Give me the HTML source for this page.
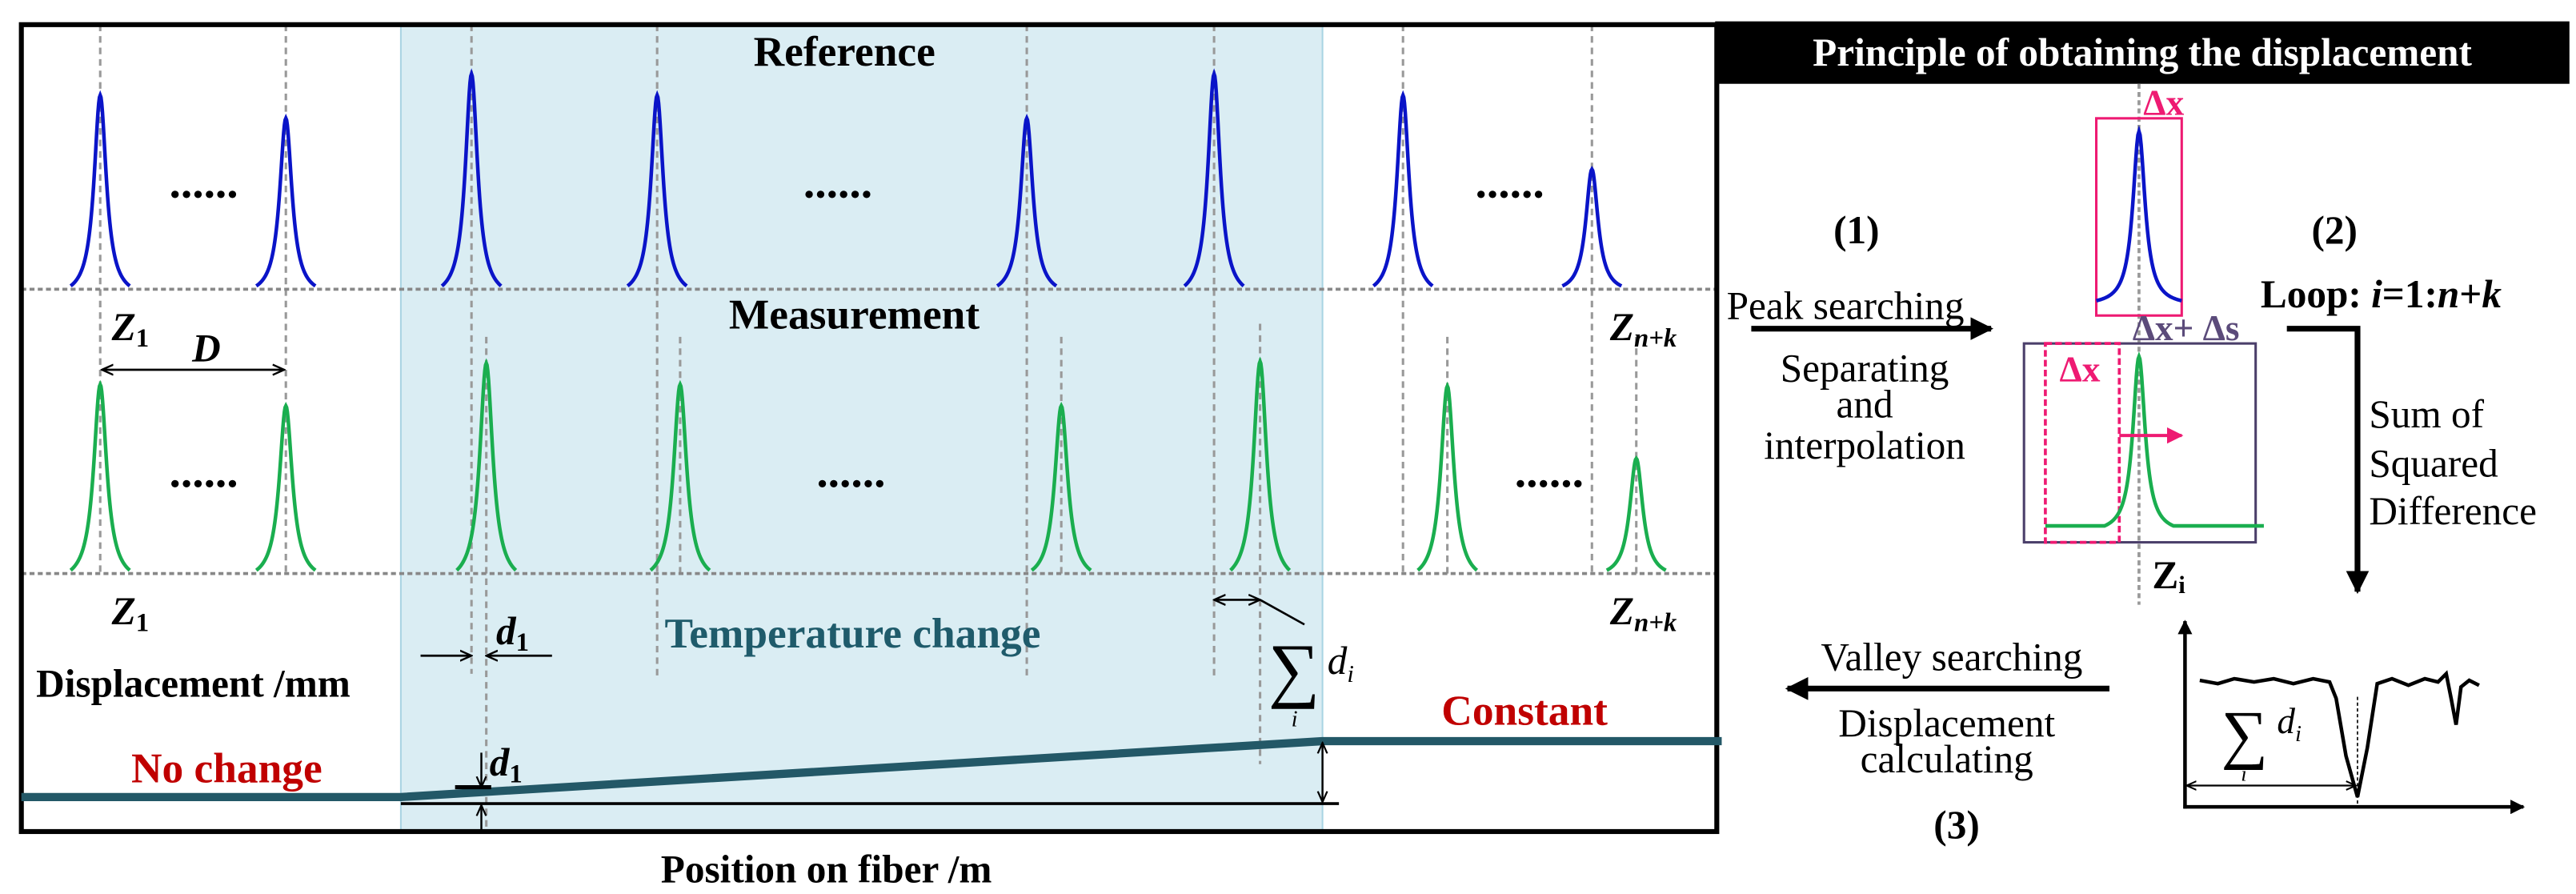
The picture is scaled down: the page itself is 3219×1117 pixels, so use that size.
<!DOCTYPE html>
<html><head><meta charset="utf-8"><style>
html,body{margin:0;padding:0;background:#fff;}
svg{display:block;}
svg text{font-family:"Liberation Serif","Times New Roman","Tinos","DejaVu Serif",serif;}
</style></head><body>
<svg id="fig" width="3219" height="1117" viewBox="0 0 1568 544" preserveAspectRatio="none" xmlns="http://www.w3.org/2000/svg">
<defs>
<marker id="ah" viewBox="0 0 10 10" refX="9" refY="5" markerWidth="6" markerHeight="6" orient="auto-start-reverse"><path d="M0,1 L9,5 L0,9" fill="none" stroke="#000" stroke-width="1.5"/></marker>
<marker id="ahf" viewBox="0 0 10 10" refX="9" refY="5" markerWidth="4" markerHeight="4" orient="auto"><path d="M0,0 L10,5 L0,10 z" fill="#000"/></marker>
<marker id="ahp" viewBox="0 0 10 10" refX="9" refY="5" markerWidth="5" markerHeight="5" orient="auto"><path d="M0,0 L10,5 L0,10 z" fill="#ee1a72"/></marker>
</defs>
<rect x="244" y="15" width="561" height="491" fill="#daedf3" stroke="#a9d4e3" stroke-width="1"/>
<g id="grid"></g>
<line x1="13" y1="176" x2="1045" y2="176" stroke="#888" stroke-width="1.8" stroke-dasharray="3,2"/>
<line x1="13" y1="349" x2="1045" y2="349" stroke="#888" stroke-width="1.8" stroke-dasharray="3,2"/>
<g id="peaks"></g>
<rect x="13" y="15" width="1032" height="491" fill="none" stroke="#000" stroke-width="3"/>
<text x="514" y="40" font-size="26" font-weight="bold" text-anchor="middle">Reference</text>
<text x="520" y="200" font-size="26" font-weight="bold" text-anchor="middle">Measurement</text>
<g font-size="24" font-weight="bold" font-style="italic">
<text x="68" y="207">Z<tspan font-size="16" font-style="normal" dy="4">1</tspan></text>
<text x="68" y="380">Z<tspan font-size="16" font-style="normal" dy="4">1</tspan></text>
<text x="980" y="207">Z<tspan font-size="16" dy="4">n+k</tspan></text>
<text x="980" y="380">Z<tspan font-size="16" dy="4">n+k</tspan></text>
<text x="117" y="220">D</text>
</g>
<line x1="62" y1="225" x2="173" y2="225" stroke="#000" stroke-width="1.3" marker-start="url(#ah)" marker-end="url(#ah)"/>
<g id="dots" font-size="28" font-weight="bold"></g>
<text x="519" y="394" font-size="26" font-weight="bold" fill="#1f5b6b" text-anchor="middle">Temperature change</text>
<text x="22" y="424" font-size="24" font-weight="bold">Displacement /mm</text>
<text x="302" y="392" font-size="24" font-style="italic" font-weight="bold">d<tspan font-size="16" font-style="normal" dy="4">1</tspan></text>
<line x1="256" y1="399" x2="287" y2="399" stroke="#000" stroke-width="1.3" marker-end="url(#ah)"/>
<line x1="336" y1="399" x2="296" y2="399" stroke="#000" stroke-width="1.3" marker-end="url(#ah)"/>
<line x1="739" y1="365" x2="767" y2="365" stroke="#000" stroke-width="1.3" marker-start="url(#ah)" marker-end="url(#ah)"/>
<line x1="767" y1="365" x2="794" y2="380" stroke="#000" stroke-width="1.3"/>
<g><text x="772" y="422" font-size="44">∑</text><text x="808" y="410" font-size="24" font-style="italic">d<tspan font-size="15" dy="5">i</tspan></text><text x="786" y="442" font-size="14" font-style="italic">i</text></g>
<text x="928" y="441" font-size="26" font-weight="bold" fill="#c00000" text-anchor="middle">Constant</text>
<text x="138" y="476" font-size="26" font-weight="bold" fill="#c00000" text-anchor="middle">No change</text>
<polyline points="13,485 244,485 805,451 1048,451" fill="none" stroke="#235867" stroke-width="5"/>
<line x1="244" y1="489" x2="815" y2="489" stroke="#000" stroke-width="1.8"/>
<line x1="805" y1="452" x2="805" y2="488" stroke="#000" stroke-width="1.2" marker-start="url(#ah)" marker-end="url(#ah)"/>
<line x1="293" y1="458" x2="293" y2="479" stroke="#000" stroke-width="1.2" marker-end="url(#ah)"/>
<line x1="293" y1="505" x2="293" y2="490" stroke="#000" stroke-width="1.2" marker-end="url(#ah)"/>
<line x1="277" y1="479" x2="299" y2="479" stroke="#000" stroke-width="2.5"/>
<text x="298" y="472" font-size="24" font-style="italic" font-weight="bold">d<tspan font-size="16" font-style="normal" dy="4">1</tspan></text>
<text x="503" y="537" font-size="24" font-weight="bold" text-anchor="middle">Position on fiber /m</text>

<rect x="1044" y="13" width="520" height="38" fill="#000"/>
<text x="1304" y="40" font-size="24" font-weight="bold" fill="#fff" text-anchor="middle">Principle of obtaining the displacement</text>
<text x="1130" y="148" font-size="24" font-weight="bold" text-anchor="middle">(1)</text>
<text x="1051" y="194" font-size="24">Peak searching</text>
<line x1="1066" y1="200" x2="1212" y2="200" stroke="#000" stroke-width="3.5" marker-end="url(#ahf)"/>
<g font-size="24" text-anchor="middle"><text x="1135" y="232">Separating</text><text x="1135" y="254">and</text><text x="1135" y="279">interpolation</text></g>
<line x1="1302" y1="51" x2="1302" y2="368" stroke="#999" stroke-width="1.8" stroke-dasharray="3,2"/>
<rect x="1276" y="72" width="52" height="120" fill="none" stroke="#ee1a72" stroke-width="1.5"/>
<text x="1317" y="70" font-size="22" font-weight="bold" fill="#ee1a72" text-anchor="middle">Δx</text>
<path id="rpeak" fill="none" stroke="#0a14c8" stroke-width="2.2"/>
<text x="1298" y="207" font-size="22" font-weight="bold" fill="#5b4b7a">Δx+ Δs</text>
<rect x="1232" y="209" width="141" height="121" fill="none" stroke="#4b3f6a" stroke-width="1.5"/>
<rect x="1245" y="209" width="45" height="121" fill="none" stroke="#ee1a72" stroke-width="1.8" stroke-dasharray="4,2"/>
<text x="1266" y="232" font-size="22" font-weight="bold" fill="#ee1a72" text-anchor="middle">Δx</text>
<path id="mpeak" fill="none" stroke="#1aae4f" stroke-width="2.2"/>
<line x1="1290" y1="265" x2="1328" y2="265" stroke="#ee1a72" stroke-width="2" marker-end="url(#ahp)"/>
<text x="1310" y="358" font-size="24" font-weight="bold">Z<tspan font-size="15" dy="3">i</tspan></text>
<text x="1421" y="148" font-size="24" font-weight="bold" text-anchor="middle">(2)</text>
<text x="1376" y="187" font-size="24" font-weight="bold">Loop: <tspan font-style="italic">i</tspan>=1:<tspan font-style="italic">n</tspan>+<tspan font-style="italic">k</tspan></text>
<polyline points="1392,200 1435,200 1435,360" fill="none" stroke="#000" stroke-width="3.5" marker-end="url(#ahf)"/>
<g font-size="24"><text x="1442" y="260">Sum of</text><text x="1442" y="290">Squared</text><text x="1442" y="319">Difference</text></g>
<line x1="1330" y1="492" x2="1330" y2="378" stroke="#000" stroke-width="2.2" marker-end="url(#ahf)"/>
<line x1="1329" y1="491" x2="1536" y2="491" stroke="#000" stroke-width="2.2" marker-end="url(#ahf)"/>
<path id="ssd" fill="none" stroke="#000" stroke-width="2.2"/>
<line x1="1435" y1="424" x2="1435" y2="490" stroke="#000" stroke-width="0.8" stroke-dasharray="2,1.5"/>
<line x1="1331" y1="478" x2="1434" y2="478" stroke="#000" stroke-width="1.1" marker-start="url(#ah)" marker-end="url(#ah)"/>
<g><text x="1352" y="460" font-size="40">∑</text><text x="1386" y="446" font-size="22" font-style="italic">d<tspan font-size="14" dy="5">i</tspan></text><text x="1364" y="475" font-size="13" font-style="italic">i</text></g>
<text x="1188" y="408" font-size="24" text-anchor="middle">Valley searching</text>
<line x1="1284" y1="419" x2="1088" y2="419" stroke="#000" stroke-width="3.5" marker-end="url(#ahf)"/>
<g font-size="24" text-anchor="middle"><text x="1185" y="448">Displacement</text><text x="1185" y="470">calculating</text></g>
<text x="1191" y="510" font-size="24" font-weight="bold" text-anchor="middle">(3)</text>
</svg>
<script>
const refPeakX=[61,174,287,400,625,739,854,969];
const refPeakTop=[58,72,45,58,72,45,58,103];
const measPeakX=[61,174,296,414,646,767,881,996];
const measPeakTop=[234,247,221,234,247,220,235,279];
const ssdX=[1339,1350,1360,1372,1384,1396,1408,1418,1422,1428,1435,1441,1447,1456,1466,1476,1484,1489,1492,1495,1498,1503,1509];
const ssdY=[414,416,413,415,413,416,413,415,425,460,485,455,416,413,417,413,415,410,425,441,418,414,417];
const NS='http://www.w3.org/2000/svg';
const yRefBase=174, yMeasBase=347;
function peakPath(c,base,top,half,w){const Le=1/(1+(half/w)*(half/w));let d='';for(let i=0;i<=80;i++){const x=c-half+2*half*i/80;const u=(x-c)/w;const L=(1/(1+u*u)-Le)/(1-Le);const y=base-(base-top)*L;d+=(i?'L':'M')+x.toFixed(2)+','+y.toFixed(2);}return d;}
const g=document.getElementById('peaks'),gr=document.getElementById('grid');
function vline(x,y1,y2){const l=document.createElementNS(NS,'line');l.setAttribute('x1',x);l.setAttribute('x2',x);l.setAttribute('y1',y1);l.setAttribute('y2',y2);l.setAttribute('stroke','#999');l.setAttribute('stroke-width','1.5');l.setAttribute('stroke-dasharray','4,3');


gr.appendChild(l);}
refPeakX.forEach((x,i)=>{const shaded=x>244&&x<805;vline(x,15,shaded?(i===2?410:414):349);
const p=document.createElementNS(NS,'path');p.setAttribute('d',peakPath(x,yRefBase,refPeakTop[i],18,4.5));p.setAttribute('fill','none');p.setAttribute('stroke','#0a14c8');p.setAttribute('stroke-width','2.2');


g.appendChild(p);});
measPeakX.forEach((x,i)=>{if(Math.abs(x-refPeakX[i])>1){vline(x,i===5?197:205,i===1?349:(i===2?505:(i===5?465:349)));}
const p=document.createElementNS(NS,'path');p.setAttribute('d',peakPath(x,yMeasBase,measPeakTop[i],18,4.8));p.setAttribute('fill','none');p.setAttribute('stroke','#1aae4f');p.setAttribute('stroke-width','2.2');


g.appendChild(p);});
const dotsPos=[[124,120],[510,120],[919,120],[124,296],[518,296],[943,296]];
const dg=document.getElementById('dots');
dotsPos.forEach(([x,y])=>{const t=document.createElementNS(NS,'text');t.setAttribute('x',x);t.setAttribute('y',y);t.setAttribute('text-anchor','middle');t.textContent='......';


dg.appendChild(t);});
document.getElementById('rpeak').setAttribute('d',peakPath(1302,183,80,26,4.5));
(function(){let d='M1245,320 L1281,320 '+peakPath(1302,320,217,21,4.5).replace(/^M/,'L')+' L1378,320';document.getElementById('mpeak').setAttribute('d',d);})();
document.getElementById('ssd').setAttribute('d',ssdX.map((x,i)=>(i?'L':'M')+x+','+ssdY[i]).join(' '));
</script>
</body></html>
